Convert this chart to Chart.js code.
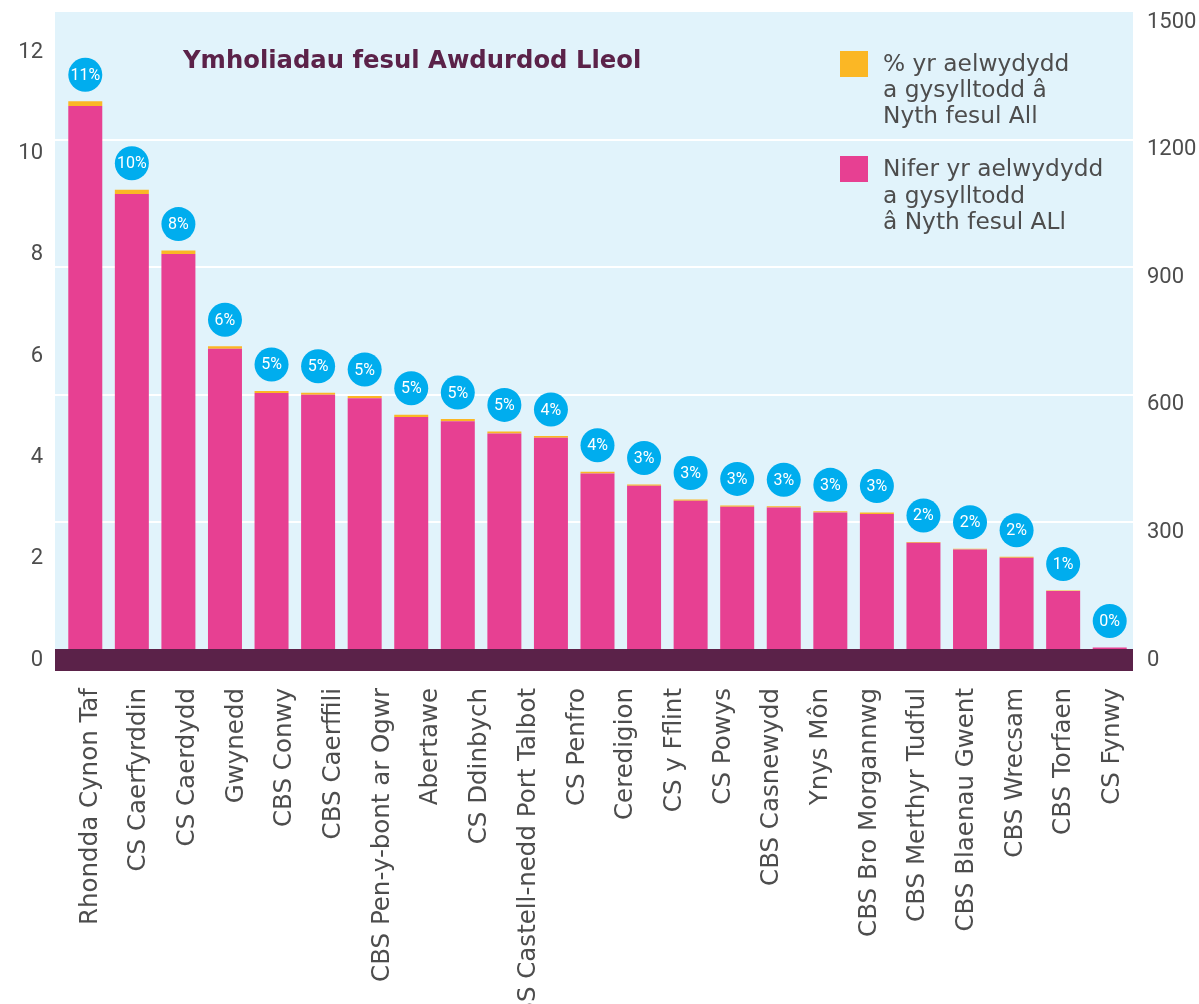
<!DOCTYPE html>
<html>
<head>
<meta charset="utf-8">
<script src="https://cdn.jsdelivr.net/npm/chart.js@4.4.1/dist/chart.umd.min.js"></script>
<style>
  body { margin: 0; background: #fff; }
  #wrap { width: 1199px; height: 1004px; position: relative; }
</style>
</head>
<body>
<div id="wrap"><canvas id="authorityChart"></canvas></div>
<script>
// labeli'r echel x (22 enw, 23 bar yn y llun)
const authorities = [
	'Rhondda Cynon Taf', 'CS Caerfyrddin', 'CS Caerdydd', 'Gwynedd', 'CBS Conwy',
	'CBS Caerffili', 'CBS Pen-y-bont ar Ogwr', 'Abertawe', 'CS Ddinbych',
	'CBS Castell-nedd Port Talbot', 'CS Penfro', 'Ceredigion', 'CS y Fflint', 'CS Powys',
	'CBS Casnewydd', 'Ynys Môn', 'CBS Bro Morgannwg', 'CBS Merthyr Tudful',
	'CBS Blaenau Gwent', 'CBS Wrecsam', 'CBS Torfaen', 'CS Fynwy'
];
// nifer yr aelwydydd (echel dde)
const households = [1279, 1072, 931, 708, 604, 600, 592, 548, 538, 509, 499, 415, 386, 351, 337, 335, 323, 320, 252, 236, 217, 139, 6];
// % yr aelwydydd
const percents = [11, 10, 8, 6, 5, 5, 5, 5, 5, 5, 4, 4, 3, 3, 3, 3, 3, 3, 2, 2, 2, 1, 0];

const leftMax = 12.6;   // echel chwith 0-12
const rightMax = 1500;  // echel dde 0-1500

const chartTitle = 'Ymholiadau fesul Awdurdod Lleol';
const legendPct = ['% yr aelwydydd', 'a gysylltodd â', 'Nyth fesul All'];
const legendCount = ['Nifer yr aelwydydd', 'a gysylltodd', 'â Nyth fesul ALl'];

const PINK = '#e74092';
const YELLOW = '#fbb725';
const BLUE = '#00adee';
const PLUM = '#5b2249';
const BG = '#e1f3fb';
const GREY = '#4d4d4d';
const EXTRA_LEFT = 7; // cefndir yn ymestyn ychydig i'r chwith

// cefndir glas + llinellau grid gwyn
const backdropPlugin = {
	id: 'backdrop',
	beforeDatasetsDraw(chart) {
		const { ctx, chartArea } = chart;
		const y1 = chart.scales.y1;
		ctx.save();
		ctx.fillStyle = BG;
		ctx.fillRect(chartArea.left - EXTRA_LEFT, chartArea.top, chartArea.right - chartArea.left + EXTRA_LEFT, chartArea.bottom - chartArea.top);
		ctx.strokeStyle = '#ffffff';
		ctx.lineWidth = 2;
		y1.ticks.forEach(t => {
			if (t.value <= 0 || t.value >= rightMax) return;
			const y = Math.round(y1.getPixelForValue(t.value));
			ctx.beginPath();
			ctx.moveTo(chartArea.left - EXTRA_LEFT, y);
			ctx.lineTo(chartArea.right, y);
			ctx.stroke();
		});
		ctx.restore();
	}
};

// band piws ar y gwaelod + cylchoedd %
const overlayPlugin = {
	id: 'overlay',
	afterDatasetsDraw(chart) {
		const { ctx, chartArea } = chart;
		const zero = chart.scales.y1.getPixelForValue(0);
		ctx.save();
		ctx.fillStyle = PLUM;
		ctx.fillRect(chartArea.left - EXTRA_LEFT, zero - 1, chartArea.right - chartArea.left + EXTRA_LEFT, 22);

		const meta = chart.getDatasetMeta(1);
		meta.data.forEach((bar, i) => {
			const cx = bar.x;
			const cy = bar.y - 26.5;
			ctx.beginPath();
			ctx.arc(cx, cy, 17, 0, Math.PI * 2);
			ctx.fillStyle = BLUE;
			ctx.fill();
			ctx.fillStyle = '#ffffff';
			ctx.font = '16px Roboto';
			ctx.textAlign = 'center';
			ctx.textBaseline = 'middle';
			ctx.fillText(percents[i] + '%', cx, cy + 1);
		});
		ctx.restore();
	},
	afterDraw(chart) {
		const { ctx } = chart;
		ctx.save();
		// teitl
		ctx.fillStyle = PLUM;
		ctx.font = 'bold 24.3px "DejaVu Sans"';
		ctx.textAlign = 'left';
		ctx.textBaseline = 'middle';
		ctx.fillText(chartTitle, 183, 62);

		// allwedd
		ctx.font = '23.3px "DejaVu Sans"';
		ctx.fillStyle = YELLOW;
		ctx.fillRect(840, 51, 28, 26);
		ctx.fillStyle = PINK;
		ctx.fillRect(840, 156, 28, 26);
		ctx.fillStyle = GREY;
		legendPct.forEach((line, i) => ctx.fillText(line, 883, 65 + i * 26));
		legendCount.forEach((line, i) => ctx.fillText(line, 883, 170 + i * 26.5));
		ctx.restore();
	}
};

const ctx = document.getElementById('authorityChart').getContext('2d');
new Chart(ctx, {
	type: 'bar',
	data: {
		labels: households.map((v, i) => String(i + 1)),
		datasets: [{
			label: legendCount.join(' '),
			data: households,
			backgroundColor: PINK,
			yAxisID: 'y1',
			xAxisID: 'x',
			barPercentage: 0.73,
			categoryPercentage: 1,
		}, {
			label: legendPct.join(' '),
			data: percents,
			backgroundColor: YELLOW,
			yAxisID: 'y1',
			xAxisID: 'x',
			barPercentage: 0.73,
			categoryPercentage: 1,
		}],
	},
	options: {
		responsive: true,
		maintainAspectRatio: false,
		animation: false,
		layout: { padding: { top: 12, left: 0, right: 0, bottom: 0 } },
		scales: {
			x: {
				display: false,
				stacked: true,
				offset: true,
			},
			x2: {
				type: 'category',
				position: 'bottom',
				labels: authorities,
				offset: true,
				grid: { display: false, drawTicks: false },
				border: { display: false },
				ticks: {
					color: GREY,
					font: { family: 'DejaVu Sans', size: 24.5 },
					minRotation: 90,
					maxRotation: 90,
					autoSkip: false,
					padding: 38,
					labelOffset: 4,
				},
				afterFit(scale) {
					scale.height = 354;
					scale.paddingLeft = 0;
					scale.paddingRight = 0;
				}
			},
			y: {
				position: 'left',
				min: 0,
				max: leftMax,
				grid: { display: false, drawTicks: false },
				border: { display: false },
				ticks: {
					stepSize: 2,
					includeBounds: false,
					color: GREY,
					font: { family: 'Roboto', size: 22 },
					padding: 19,
					labelOffset: 10,
				},
				afterFit(scale) {
					scale.width = 62;
					scale.paddingTop = 0;
					scale.paddingBottom = 0;
				}
			},
			y1: {
				position: 'right',
				stacked: true,
				min: 0,
				max: rightMax,
				grid: { display: false, drawTicks: false },
				border: { display: false },
				ticks: {
					stepSize: 300,
					color: GREY,
					font: { family: 'Roboto', size: 22 },
					padding: 14,
					labelOffset: 10,
					callback: value => String(value),
				},
				afterFit(scale) {
					scale.width = 66;
					scale.paddingTop = 0;
					scale.paddingBottom = 0;
				}
			}
		},
		plugins: {
			legend: { display: false },
			tooltip: { enabled: true }
		}
	},
	plugins: [backdropPlugin, overlayPlugin]
});
</script>
</body>
</html>
